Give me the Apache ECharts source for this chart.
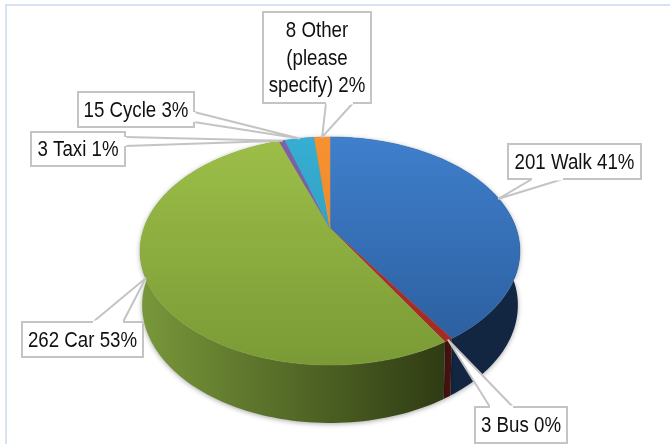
<!DOCTYPE html>
<html><head><meta charset="utf-8">
<style>html,body{margin:0;padding:0;background:#fff}#c{width:670px;height:444px}</style>
<script src="https://cdn.jsdelivr.net/npm/echarts@6/dist/echarts.min.js"></script>
</head><body><div id="c"></div>
<script>
// data
const categories = ['Walk','Bus','Car','Taxi','Cycle','Other\n(please\nspecify)'];
const counts = [201,3,262,3,15,8];
const percents = [41,0,53,1,3,2];

// styling and layout
const topStops = [['#3f7fcc','#2a5c9b'],['#b5352e','#a02a25'],['#9dbf48','#7a9a36'],['#8060a8','#6f5096'],['#36aed3','#2c93a8'],['#f79232','#e27f22']];
const wallStops = [['#16305a','#122642'],['#551612','#451210'],['#78973a','#2f3b13'],['#5a4070','#5a4070'],['#2a7f95','#2a7f95'],['#b36a1e','#b36a1e']];
const boxes = [
 {x:508,y:144,w:133,h:35,base:[[532,179],[563,179]]},
 {x:475,y:407,w:92,h:36,base:[[490,407],[513,407]]},
 {x:22,y:322,w:121,h:35,base:[[93,322],[123,322]]},
 {x:31,y:132,w:94,h:34,base:[[125,137],[125,146]]},
 {x:78,y:92,w:116,h:35,base:[[194,112],[194,122]]},
 {x:263,y:12,w:108,h:91,base:[[326,103],[353,103]]}
];
const FONT = '"Liberation Sans",sans-serif';
const TEXT_SQUEEZE = 0.85;
const G = {cx:330, topY:228, botY:281.4, A:186, B:109.4, A2:184, B2:113, p:0.2018};

const total = counts.reduce((a,b)=>a+b,0);
function proj(t,base){ // t = fraction of the turn, clockwise from 12 o'clock
  const a = t*2*Math.PI, u = Math.sin(a), v = -Math.cos(a), k = 1-G.p*v;
  return base
    ? [G.cx+G.A2*u/k, G.botY+G.B2*v/k]
    : [G.cx+G.A*u/k, G.topY+G.B*v/k];
}
const starts = []; counts.reduce((s,c,i)=>{starts[i]=s;return s+c;},0);
function arc(i,base){
  const n = Math.max(6,Math.ceil(counts[i]/total*240)), pts=[];
  for(let k=0;k<=n;k++) pts.push(proj((starts[i]+counts[i]*k/n)/total,base));
  return pts;
}
function vgrad(c){return {type:'linear',global:true,x:0,y:137,x2:0,y2:365,colorStops:[{offset:0,color:c[0]},{offset:1,color:c[1]}]};}
function hgrad(c){return {type:'linear',global:true,x:143,y:0,x2:445,y2:0,colorStops:[{offset:0,color:c[0]},{offset:1,color:c[1]}]};}

const option = {
  animation:false,
  backgroundColor:'#fff',
  graphic:[{type:'rect',z:0,shape:{x:6,y:5,width:700,height:480},style:{fill:'#fff',stroke:'#d5e3f2',lineWidth:2}}],
  series:[
   {type:'custom',coordinateSystem:'none',z:1,silent:true,data:counts.map((c,i)=>[c,i]),
    renderItem(p,api){const i=api.value(1);
      const pts = arc(i,false).concat(arc(i,true).reverse());
      return {type:'polygon',shape:{points:pts},style:{fill:hgrad(wallStops[i]),stroke:null,shadowBlur:5,shadowColor:'rgba(0,0,0,0.35)',shadowOffsetY:1}};
    }},
   {type:'custom',coordinateSystem:'none',z:2,silent:true,data:counts.map((c,i)=>[c,i]),
    renderItem(p,api){const i=api.value(1);
      const pts = [[G.cx,G.topY]].concat(arc(i,false));
      return {type:'polygon',shape:{points:pts},style:{fill:vgrad(topStops[i]),stroke:vgrad(topStops[i]),lineWidth:0.5}};
    }},
   {type:'custom',coordinateSystem:'none',z:3,silent:true,data:counts.map((c,i)=>[c,i]),
    renderItem(p,api){const i=api.value(1),b=boxes[i];
      const tip = proj((starts[i]+counts[i]/2)/total,false);
      const stroke='#c4c4c4';
      const tx=b.x+b.w/2, ty=b.y+b.h/2+1;
      return {type:'group',children:[
        {type:'polyline',shape:{points:[b.base[0],tip,b.base[1]]},style:{fill:'#fff',stroke,lineWidth:2,lineJoin:'round'}},
        {type:'rect',shape:{x:b.x,y:b.y,width:b.w,height:b.h},style:{fill:'#fff',stroke,lineWidth:2}},
        {type:'polyline',shape:{points:[b.base[0],b.base[1]]},style:{stroke:'#fff',lineWidth:3}},
        {type:'text',x:tx,y:ty,scaleX:TEXT_SQUEEZE,style:{x:0,y:0,align:'center',verticalAlign:'middle',
          text:`${counts[i]} ${categories[i]} ${percents[i]}%`,font:`22px ${FONT}`,lineHeight:27.5,fill:'#111'}}
      ]};
    }}
  ]
};
echarts.init(document.getElementById('c'),null,{renderer:'canvas'}).setOption(option);
</script></body></html>
